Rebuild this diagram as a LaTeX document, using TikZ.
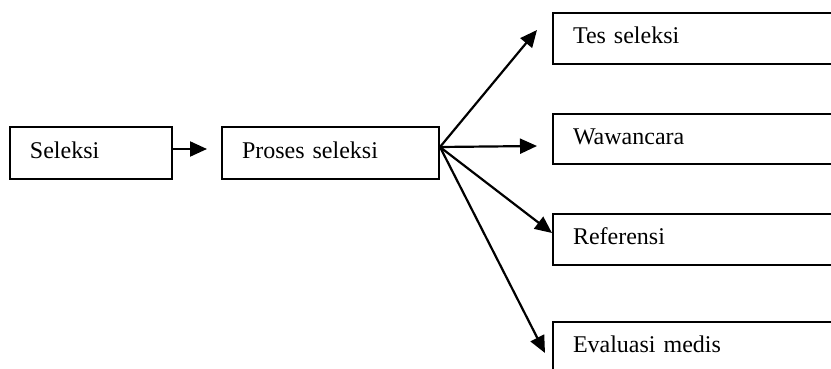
\documentclass[tikz,border=0pt]{standalone}
\usepackage{fontspec}
\setmainfont{Liberation Serif}
\usetikzlibrary{arrows.meta}
\begin{document}
\begin{tikzpicture}[x=1pt,y=-1pt,
  box/.style={draw,line width=2pt,anchor=north west,inner sep=0pt,
    text depth=6pt,text height=16pt,align=left,
    font=\fontsize{24}{28}\selectfont},
  arr/.style={line width=2.2pt,-{Triangle[length=17pt,width=15pt]}}]
\useasboundingbox (0,0) rectangle (831,369);
\node[box,minimum width=162pt,minimum height=52pt,text width=162pt] (sel) at (9,126) {\hspace*{20pt}Seleksi};
\node[box,minimum width=217pt,minimum height=52pt,text width=217pt] (pro) at (221,126) {\hspace*{20pt}Proses seleksi};
\node[box,minimum width=283pt,minimum height=51pt,text width=283pt] (tes) at (552,12.5) {\hspace*{20pt}Tes seleksi};
\node[box,minimum width=283pt,minimum height=50pt,text width=283pt] (waw) at (552,113) {\hspace*{20pt}Wawancara};
\node[box,minimum width=283pt,minimum height=51pt,text width=283pt] (ref) at (552,213) {\hspace*{20pt}Referensi};
\node[box,minimum width=283pt,minimum height=51pt,text width=283pt] (eva) at (552,321) {\hspace*{20pt}Evaluasi medis};
\coordinate (o) at ([yshift=6pt]pro.east);
\coordinate (t1) at (537,30);
\coordinate (t2) at (537,146);
\coordinate (t4) at (545,353);
\draw[arr,shorten >=14pt] ([yshift=4pt]sel.east) -- ([yshift=4pt]pro.west);
\draw[arr] (o) -- (t1);
\draw[arr] (o) -- (t2);
\draw[arr] (o) -- (ref.west |- 0,233);
\draw[arr] (o) -- (t4);
\end{tikzpicture}
\end{document}
